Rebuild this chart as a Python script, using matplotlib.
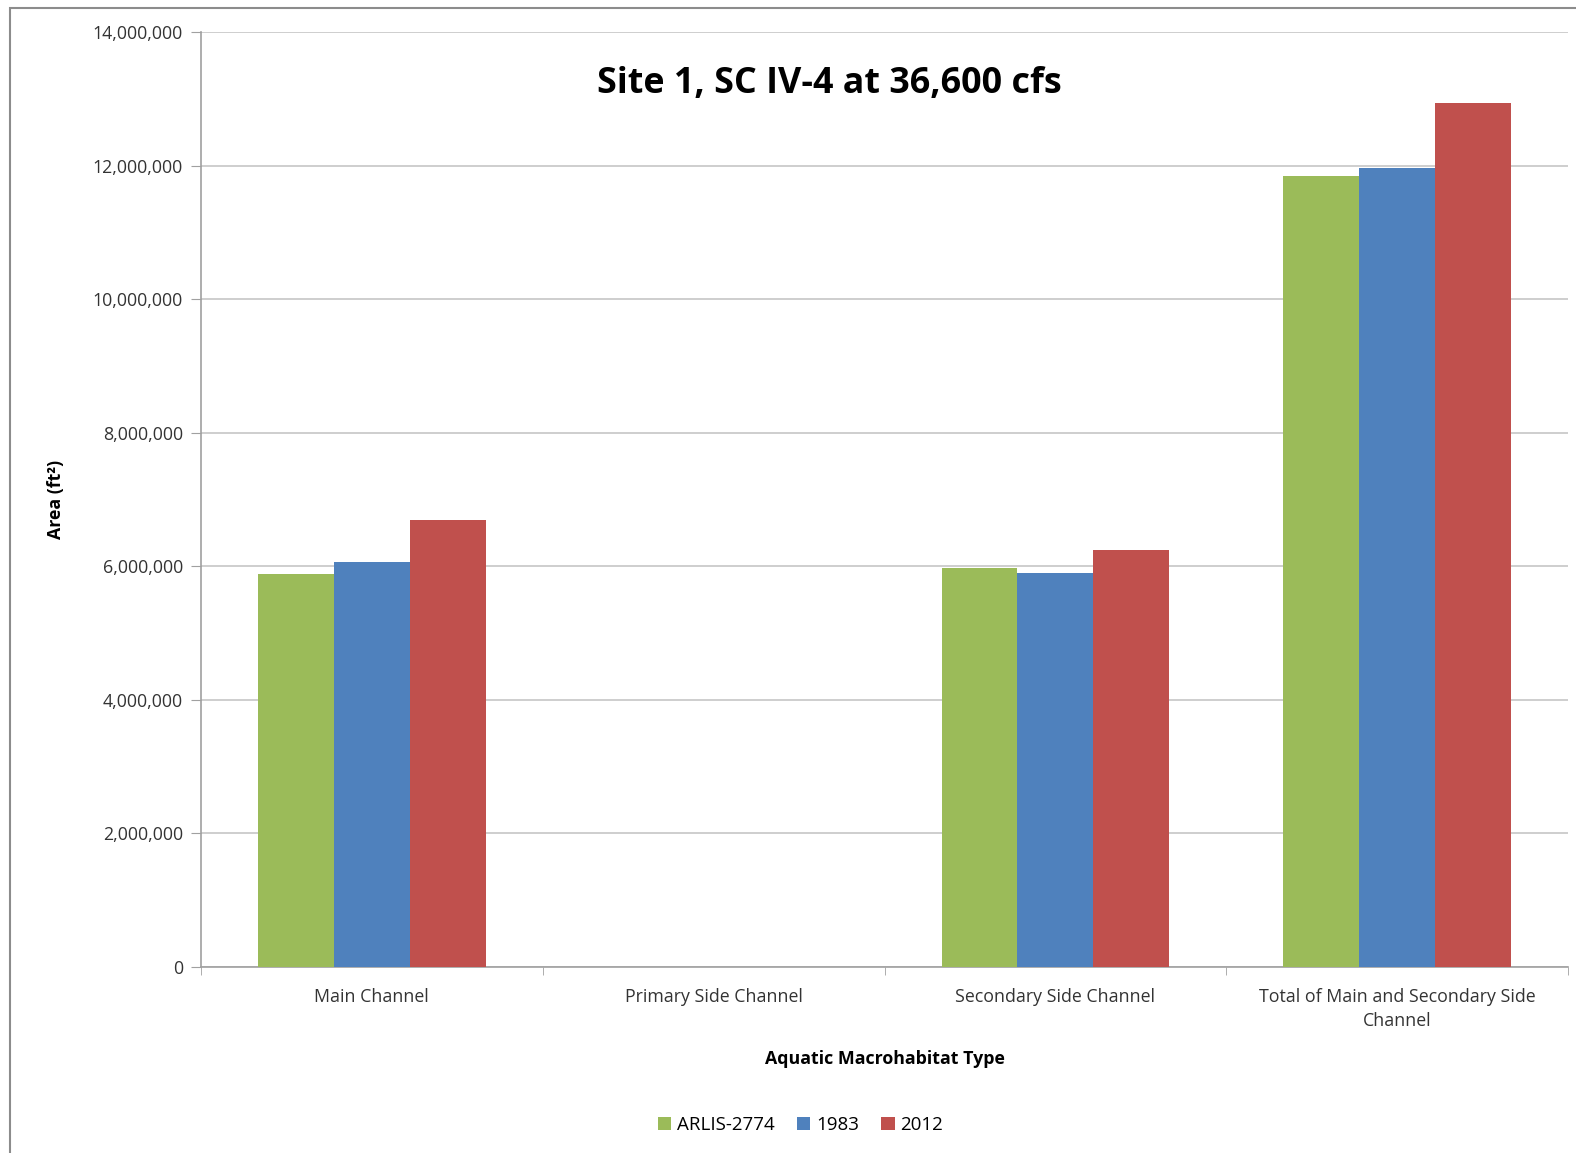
import matplotlib.pyplot as plt
import matplotlib.patches as mpatches
from matplotlib.ticker import FuncFormatter
import numpy as np

plt.rcParams['font.family'] = ['Open Sans', 'DejaVu Sans']

# values (ft²)
categories = ['Main Channel', 'Primary Side Channel', 'Secondary Side Channel',
              'Total of Main and Secondary Side\nChannel']
series_names = ['ARLIS-2774', '1983', '2012']
arlis = [5880000, 0, 5980000, 11850000]
y1983 = [6070000, 0, 5900000, 11960000]
y2012 = [6700000, 0, 6250000, 12940000]
colors = ['#9bbb59', '#4f81bd', '#c0504d']

fig = plt.figure(figsize=(15.76, 11.53), dpi=100)
ax = fig.add_axes([0.1275, 0.1613, 0.8675, 0.8107])

# outer chart border
fig.patches.append(mpatches.Rectangle((10 / 1576, -0.01), 1.1, 1 - 8 / 1153 + 0.01,
                                      transform=fig.transFigure, fill=False,
                                      edgecolor='#8c8c8c', linewidth=1.5))

x = np.arange(len(categories))
w = 0.222
for i, (vals, name) in enumerate(zip([arlis, y1983, y2012], series_names)):
    ax.bar(x + (i - 1) * w, vals, width=w, color=colors[i], label=name, zorder=3)

ax.set_xlim(-0.5, len(categories) - 0.5)
ax.set_ylim(0, 14000000)
ax.set_yticks(np.arange(0, 14000001, 2000000))
ax.yaxis.set_major_formatter(FuncFormatter(lambda v, p: f'{int(v):,}'))
ax.grid(axis='y', color='#c6c6c6', linewidth=1.2, zorder=0)

ax.set_xticks(x)
ax.set_xticklabels(categories, fontsize=12.8, color='#333333', linespacing=1.45)
ax.set_xticks(np.arange(-0.5, len(categories)), minor=True)
ax.tick_params(axis='x', which='major', length=0, pad=15)
ax.tick_params(axis='x', which='minor', length=6, color='#a0a0a0', direction='out')
ax.tick_params(axis='y', length=7, color='#a0a0a0', labelsize=12.8, labelcolor='#333333', pad=6)

for s in ['top', 'right']:
    ax.spines[s].set_visible(False)
for s in ['left', 'bottom']:
    ax.spines[s].set_color('#a0a0a0')
    ax.spines[s].set_linewidth(1.2)

ax.set_xlabel('Aquatic Macrohabitat Type', fontsize=12.8, fontweight='bold', labelpad=14)
ax.set_ylabel('Area (ft²)', fontsize=12.8, fontweight='bold', labelpad=20)

ax.text(0.46, 0.945, 'Site 1, SC IV-4 at 36,600 cfs', transform=ax.transAxes,
        ha='center', va='center', fontsize=25.8, fontweight='bold', color='black')

fig.legend(loc='center', bbox_to_anchor=(0.508, 1 - 1125 / 1153), ncol=3, frameon=False,
           fontsize=13.5, handlelength=0.7, handleheight=0.7, handletextpad=0.3,
           columnspacing=1.2)

fig.savefig('out.png', dpi=100)
